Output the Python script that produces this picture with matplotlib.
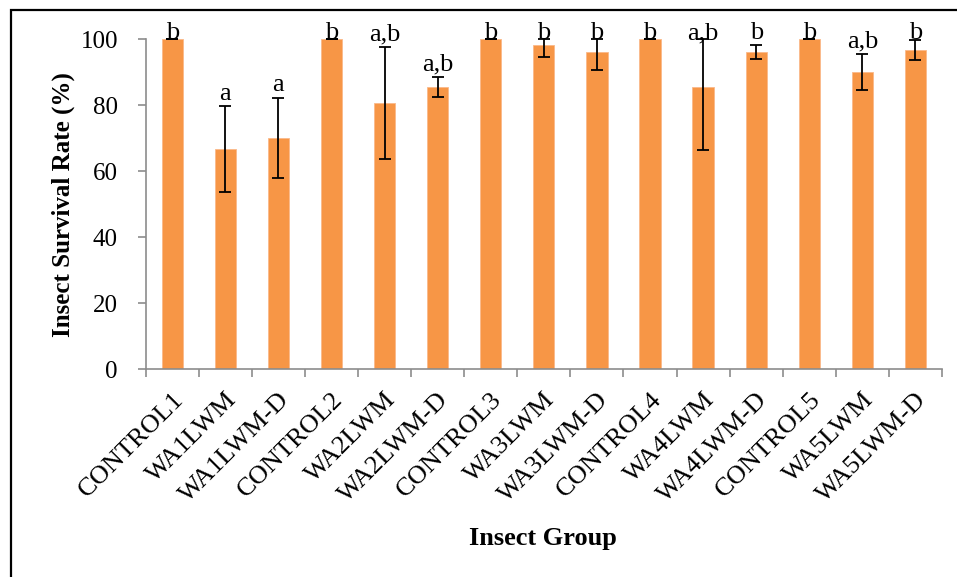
import numpy as np
import matplotlib
matplotlib.use("Agg")
import matplotlib.pyplot as plt
from matplotlib.patches import Rectangle

plt.rcParams['font.family'] = ['Liberation Serif', 'DejaVu Serif']

groups = ["CONTROL1", "WA1LWM", "WA1LWM-D", "CONTROL2", "WA2LWM", "WA2LWM-D",
          "CONTROL3", "WA3LWM", "WA3LWM-D", "CONTROL4", "WA4LWM", "WA4LWM-D",
          "CONTROL5", "WA5LWM", "WA5LWM-D"]
survival = [100, 66.7, 70.0, 100, 80.6, 85.5, 100, 98.1, 96.1, 100, 85.5, 96.1, 100, 90.0, 96.7]
sem = [0, 12.9, 12.2, 0, 17.0, 3.0, 0, 3.4, 5.4, 0, 19.0, 2.1, 0, 5.4, 3.0]
letters = ["b", "a", "a", "b", "a,b", "a,b", "b", "b", "b", "b", "a,b", "b", "b", "a,b", "b"]
yticks = [0, 20, 40, 60, 80, 100]

mean = np.array(survival)
err = np.array(sem)
upper = np.minimum(mean + err, 100) - mean
lower = err

fig = plt.figure(figsize=(9.57, 5.77), dpi=100)
# outer frame of the chart area
fig.patches.append(Rectangle((11 / 957, -0.1), 1.2, 1 - 10 / 577 + 0.1,
                             transform=fig.transFigure, fill=False,
                             edgecolor='black', linewidth=1.6))

ax = fig.add_axes([145.7 / 957, 1 - 369.3 / 577, (942 - 145.7) / 957, (369.3 - 39) / 577])
x = np.arange(len(groups))
ax.bar(x, mean, width=0.4, color='#F79646', edgecolor='#FAB98A', linewidth=0.6, zorder=2)
ax.errorbar(x, mean, yerr=[lower, upper], fmt='none', ecolor='black',
            elinewidth=1.3, capsize=4.2, capthick=1.3, zorder=3, clip_on=False)

for xi, m, u, lab in zip(x, mean, upper, letters):
    y = min(m + u + 2, 100)
    ax.text(xi, y, lab, ha='center', va='baseline', fontsize=19, zorder=4)

ax.set_xlim(-0.5, len(groups) - 0.5)
ax.set_ylim(0, 100)
ax.set_yticks(yticks)
ax.set_yticklabels([str(t) for t in yticks], fontsize=18)
ax.set_xticks(x)
ax.set_xticklabels(groups, rotation=45, ha='right', va='top',
                   rotation_mode='anchor', fontsize=19)
ax.set_xticks(np.arange(-0.5, len(groups), 1), minor=True)
ax.tick_params(axis='x', which='major', length=0, pad=14)
ax.tick_params(axis='x', which='minor', length=5.5, color='#8C8C8C', width=1.2)
ax.tick_params(axis='y', length=6, color='#8C8C8C', width=1.2, pad=14)

for s in ['top', 'right']:
    ax.spines[s].set_visible(False)
for s in ['left', 'bottom']:
    ax.spines[s].set_color('#8C8C8C')
    ax.spines[s].set_linewidth(1.2)

ax.set_ylabel("Insect Survival Rate (%)", fontsize=18, fontweight='bold', labelpad=4)
fig.text(543 / 957, 1 - 538 / 577, "Insect Group", ha='center', va='center',
         fontsize=19, fontweight='bold')

fig.savefig("out.png", dpi=100)
